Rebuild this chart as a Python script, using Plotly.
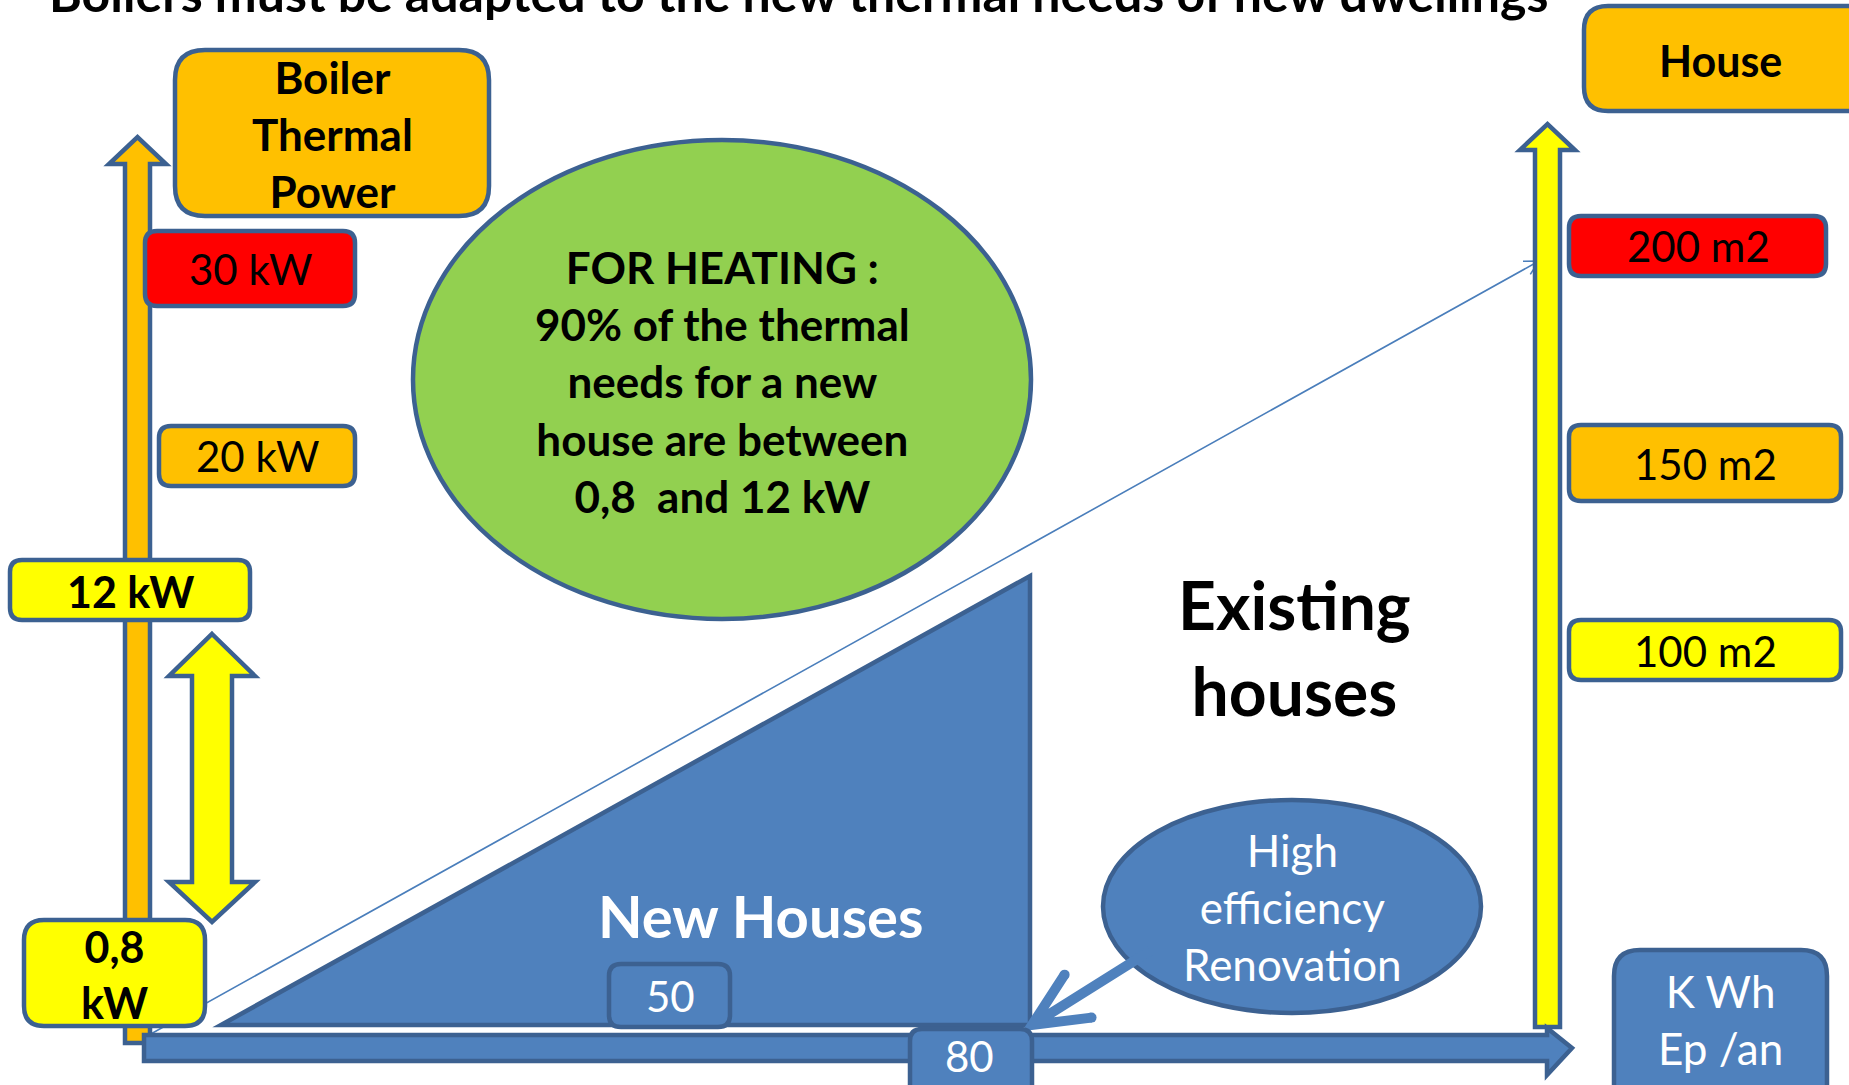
import math
import plotly.graph_objects as go

W, H = 1849, 1085

# ---------------- content ----------------
title_text = "Boilers must be adapted to the new thermal needs of new dwellings"
power_axis_title = ["Boiler", "Thermal", "Power"]
power_levels = ["30 kW", "20 kW", "12 kW", "0,8 kW"]
area_axis_title = ["House"]
area_levels = ["200 m2", "150 m2", "100 m2"]
energy_axis_title = ["K Wh", "Ep /an"]
energy_marks = [50, 80]
heating_note = ["FOR HEATING :", "90% of the thermal", "needs for a new",
                "house are between", "0,8  and 12 kW"]
zone_labels = ["New Houses", "Existing houses"]
renovation_label = ["High", "efficiency", "Renovation"]

# ---------------- styling ----------------
ORANGE = "#FFC000"
YELLOW = "#FFFF00"
RED = "#FF0000"
GREEN = "#92D050"
BLUE = "#4F81BD"
EDGE = "#3C6191"
LINEBLUE = "#4A7EBB"
FONT = "Lato"
LW = 4.5

shapes = []
annotations = []


def rrect(x0, y0, x1, y1, r, fill, lw=LW):
    p = (f"M{x0+r},{y0} L{x1-r},{y0} Q{x1},{y0} {x1},{y0+r} L{x1},{y1-r} "
         f"Q{x1},{y1} {x1-r},{y1} L{x0+r},{y1} Q{x0},{y1} {x0},{y1-r} "
         f"L{x0},{y0+r} Q{x0},{y0} {x0+r},{y0} Z")
    shapes.append(dict(type="path", path=p, fillcolor=fill,
                       line=dict(color=EDGE, width=lw), layer="above"))


def poly(pts, fill, lw=LW, color=EDGE):
    p = "M" + " L".join(f"{x},{y}" for x, y in pts) + " Z"
    shapes.append(dict(type="path", path=p, fillcolor=fill,
                       line=dict(color=color, width=lw), layer="above"))


def ellipse(x0, y0, x1, y1, fill, lw=LW):
    shapes.append(dict(type="circle", x0=x0, y0=y0, x1=x1, y1=y1,
                       fillcolor=fill, line=dict(color=EDGE, width=lw),
                       layer="above"))


def chevron_arrow(start, tip, length, half_angle_deg, color, width, round_ends=False):
    dx, dy = start[0] - tip[0], start[1] - tip[1]
    n = math.hypot(dx, dy)
    ux, uy = dx / n, dy / n
    a = math.radians(half_angle_deg)
    b1 = (tip[0] + length * (ux * math.cos(a) - uy * math.sin(a)),
          tip[1] + length * (ux * math.sin(a) + uy * math.cos(a)))
    b2 = (tip[0] + length * (ux * math.cos(-a) - uy * math.sin(-a)),
          tip[1] + length * (ux * math.sin(-a) + uy * math.cos(-a)))
    p = (f"M{start[0]},{start[1]} L{tip[0]},{tip[1]} "
         f"M{b1[0]:.1f},{b1[1]:.1f} L{tip[0]},{tip[1]} L{b2[0]:.1f},{b2[1]:.1f}")
    shapes.append(dict(type="path", path=p, line=dict(color=color, width=width),
                       layer="above"))
    if round_ends:
        r = width / 2
        for bx, by in (b1, b2):
            shapes.append(dict(type="circle", x0=bx - r, x1=bx + r, y0=by - r,
                               y1=by + r, fillcolor=color,
                               line=dict(width=0), layer="above"))


def label(x, y, lines, size, color="black", bold=False):
    annotations.append(dict(
        x=x, y=y, xref="x", yref="y", text="<br>".join(lines), showarrow=False,
        xanchor="center", yanchor="middle", align="center",
        font=dict(family=FONT, size=size, color=color,
                  weight="bold" if bold else "normal")))


# thin diagonal arrow (from origin toward 200 m2)
chevron_arrow((140, 1040), (1539, 261), 16, 28, LINEBLUE, 1.6)

# left orange vertical arrow (boiler power axis)
poly([(125, 1043), (125, 164), (109, 164), (137.5, 137), (166, 164),
      (150, 164), (150, 1043)], ORANGE)

# right yellow vertical arrow (house size axis)
poly([(1535, 1027), (1535, 150), (1520, 150), (1547.5, 124), (1575, 150),
      (1560, 150), (1560, 1027)], YELLOW)

# horizontal blue arrow (energy axis)
poly([(144, 1035), (1547, 1035), (1547, 1028), (1572, 1048), (1547, 1075),
      (1547, 1061), (144, 1061)], BLUE)

# New houses triangle
poly([(221, 1025), (1030, 1025), (1030, 576)], BLUE)

# ellipses
ellipse(413, 140, 1031, 619, GREEN)
ellipse(1103, 800, 1481, 1013, BLUE)

# renovation arrow (over the ellipse edge)
chevron_arrow((1150, 951), (1032, 1025), 60, 25, BLUE, 10, round_ends=True)

# yellow double arrow between 12 kW and 0,8 kW
poly([(212, 634), (255, 676), (232, 676), (232, 882), (255, 882), (212, 922),
      (169, 882), (192, 882), (192, 676), (169, 676)], YELLOW)

# boxes
rrect(175, 50, 489, 216, 30, ORANGE)          # Boiler Thermal Power
rrect(145, 231, 355, 306, 12, RED)            # 30 kW
rrect(159, 426, 355, 486, 12, ORANGE)         # 20 kW
rrect(10, 560, 250, 620, 12, YELLOW)          # 12 kW
rrect(24, 920, 205, 1026, 20, YELLOW)         # 0,8 kW
rrect(1584, 6, 1880, 111, 24, ORANGE)         # House
rrect(1569, 216, 1826, 276, 12, RED)          # 200 m2
rrect(1569, 425, 1841, 501, 12, ORANGE)       # 150 m2
rrect(1569, 620, 1841, 680, 12, YELLOW)       # 100 m2
rrect(1614, 950, 1827, 1110, 26, BLUE)        # K Wh Ep/an
rrect(609, 964, 730, 1027, 12, BLUE)          # 50
rrect(910, 1029, 1032, 1110, 12, BLUE)        # 80

# title (partly cut at the top edge, as in the reference)
annotations.append(dict(
    x=798, y=1 + 7 / H, xref="x", yref="paper", text=title_text, showarrow=False,
    xanchor="center", yanchor="middle",
    font=dict(family=FONT, size=50, color="black", weight="bold")))

label(332, 134, power_axis_title, 44, bold=True)
label(250, 269, [power_levels[0]], 42)
label(257, 456, [power_levels[1]], 42)
label(130, 591, [power_levels[2]], 43, bold=True)
label(114, 974, power_levels[3].split(" "), 43, bold=True)

label(1720, 60, area_axis_title, 43, bold=True)
label(1698, 246, [area_levels[0]], 42)
label(1705, 464, [area_levels[1]], 42)
label(1705, 651, [area_levels[2]], 42)

label(1720, 1019, energy_axis_title, 44, color="white")
label(670, 996, [str(energy_marks[0])], 42, color="white")
label(969, 1056, [str(energy_marks[1])], 42, color="white")

label(722, 381, heating_note, 44, bold=True)
label(761, 915, [zone_labels[0]], 58, color="white", bold=True)
label(1294, 647, zone_labels[1].split(" "), 66, bold=True)
label(1292, 907, renovation_label, 44, color="white")

fig = go.Figure(go.Scatter(x=[0, W], y=[0, H], mode="markers",
                           marker=dict(size=1, opacity=0), hoverinfo="skip",
                           showlegend=False))
fig.update_layout(
    width=W, height=H, margin=dict(l=0, r=0, t=0, b=0, pad=0),
    paper_bgcolor="white", plot_bgcolor="white", showlegend=False,
    xaxis=dict(range=[0, W], visible=False, fixedrange=True),
    yaxis=dict(range=[H, 0], visible=False, fixedrange=True),
    shapes=shapes, annotations=annotations,
)
fig.write_html("out.html", config={"displayModeBar": False},
               post_script="document.body.style.margin='0';"
                           "document.body.style.overflow='hidden';")
